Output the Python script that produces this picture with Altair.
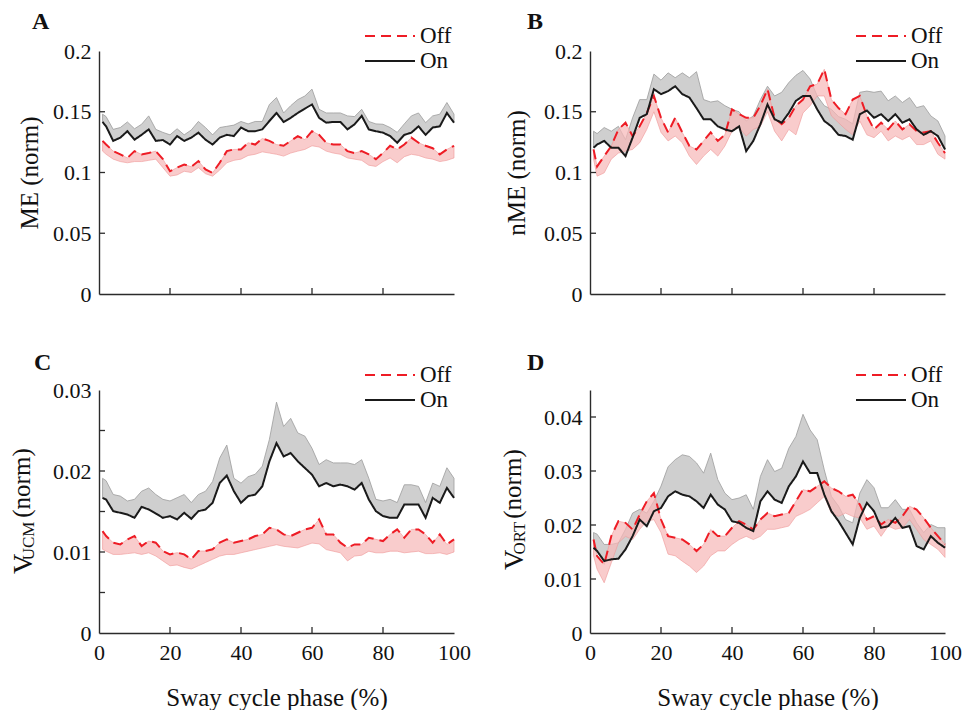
import altair as alt
import pandas as pd

# ---------------- data ----------------
phase = [1] + list(range(2, 101, 2))  # sway cycle phase (%)

x_labels = [0, 20, 40, 60, 80, 100]
x_inner = [20, 40, 60, 80]

A_on = [0.1416, 0.138, 0.126, 0.1287, 0.134, 0.127,
        0.131, 0.1355, 0.126, 0.1267, 0.123,
        0.130, 0.126, 0.1287, 0.1328, 0.127,
        0.123, 0.1287, 0.131, 0.130, 0.137,
        0.134, 0.134, 0.1355, 0.1424, 0.149,
        0.1416, 0.145, 0.149, 0.1526, 0.156,
        0.145, 0.141, 0.1416, 0.1416, 0.1355,
        0.1397, 0.1466, 0.1355, 0.134, 0.1328,
        0.130, 0.1245, 0.131, 0.1328, 0.138,
        0.131, 0.137, 0.138, 0.149, 0.141]
A_on_hi = [0.148, 0.146, 0.1355, 0.137, 0.1416, 0.136,
           0.1397, 0.1466, 0.1355, 0.133, 0.131,
           0.136, 0.131, 0.135, 0.142, 0.137,
           0.131, 0.137, 0.138, 0.139, 0.142,
           0.140, 0.142, 0.142, 0.156, 0.1617,
           0.149, 0.155, 0.160, 0.163, 0.1686,
           0.152, 0.149, 0.149, 0.149, 0.1466,
           0.146, 0.152, 0.142, 0.140, 0.1397,
           0.137, 0.133, 0.140, 0.1466, 0.149,
           0.141, 0.1466, 0.148, 0.1576, 0.148]
A_off = [0.126, 0.123, 0.1176, 0.1149, 0.112, 0.1176,
         0.1149, 0.116, 0.1176, 0.111, 0.101,
         0.104, 0.1066, 0.1047, 0.1094, 0.1025,
         0.0997, 0.108, 0.1176, 0.119, 0.119,
         0.1245, 0.123, 0.128, 0.126, 0.123,
         0.122, 0.126, 0.130, 0.127, 0.134,
         0.131, 0.1245, 0.123, 0.123, 0.1176,
         0.116, 0.1176, 0.1149, 0.111, 0.116,
         0.122, 0.119, 0.123, 0.1287, 0.1245,
         0.122, 0.120, 0.1149, 0.119, 0.122]
A_off_lo = [0.1176, 0.115, 0.111, 0.109, 0.108, 0.109,
            0.109, 0.110, 0.111, 0.104, 0.097,
            0.098, 0.101, 0.100, 0.104, 0.099,
            0.097, 0.102, 0.108, 0.110, 0.111,
            0.114, 0.115, 0.117, 0.116, 0.115,
            0.1135, 0.116, 0.1176, 0.119, 0.122,
            0.121, 0.1176, 0.116, 0.115, 0.112,
            0.111, 0.110, 0.106, 0.105, 0.109,
            0.112, 0.108, 0.113, 0.115, 0.114,
            0.112, 0.111, 0.109, 0.110, 0.112]

B_on = [0.1204, 0.123, 0.126, 0.1204, 0.1204, 0.1135,
        0.1287, 0.145, 0.148, 0.1686, 0.1645,
        0.167, 0.171, 0.1645, 0.1617, 0.153,
        0.1438, 0.1438, 0.138, 0.1355, 0.134,
        0.138, 0.1176, 0.126, 0.1397, 0.156,
        0.1438, 0.141, 0.149, 0.159, 0.163,
        0.163, 0.152, 0.1424, 0.138, 0.131,
        0.130, 0.127, 0.148, 0.151, 0.145,
        0.148, 0.1424, 0.148, 0.141, 0.1438,
        0.1355, 0.131, 0.134, 0.130, 0.119]
B_on_hi = [0.134, 0.132, 0.137, 0.134, 0.138, 0.127,
           0.145, 0.160, 0.160, 0.181, 0.176,
           0.182, 0.178, 0.182, 0.178, 0.183,
           0.160, 0.158, 0.159, 0.155, 0.152,
           0.150, 0.1424, 0.1466, 0.160, 0.171,
           0.163, 0.166, 0.174, 0.180, 0.184,
           0.177, 0.163, 0.155, 0.152, 0.146,
           0.1438, 0.140, 0.166, 0.167, 0.166,
           0.167, 0.159, 0.163, 0.1576, 0.1617,
           0.1534, 0.155, 0.1466, 0.1424, 0.130]
B_off = [0.119, 0.105, 0.1135, 0.1218, 0.1355, 0.141,
         0.130, 0.138, 0.149, 0.163, 0.145,
         0.133, 0.145, 0.133, 0.1218, 0.119,
         0.126, 0.133, 0.126, 0.131, 0.152,
         0.148, 0.145, 0.145, 0.155, 0.1686,
         0.145, 0.1397, 0.145, 0.155, 0.160,
         0.171, 0.1727, 0.185, 0.160, 0.153,
         0.148, 0.160, 0.163, 0.1466, 0.1355,
         0.141, 0.1355, 0.1424, 0.1355, 0.1397,
         0.134, 0.133, 0.134, 0.1245, 0.116]
B_off_lo = [0.111, 0.097, 0.0997, 0.111, 0.116, 0.1176,
            0.119, 0.1245, 0.1355, 0.150, 0.133,
            0.126, 0.130, 0.1245, 0.1135, 0.1066,
            0.1135, 0.119, 0.1135, 0.1218, 0.134,
            0.137, 0.130, 0.1355, 0.138, 0.150,
            0.134, 0.126, 0.1355, 0.131, 0.149,
            0.155, 0.163, 0.163, 0.1466, 0.141,
            0.1355, 0.131, 0.1424, 0.131, 0.1287,
            0.134, 0.126, 0.130, 0.127, 0.130,
            0.123, 0.123, 0.126, 0.115, 0.111]

C_on = [0.01668, 0.01648, 0.01504, 0.01484, 0.01463, 0.01422,
        0.01557, 0.01525, 0.01475, 0.01422, 0.01443,
        0.01402, 0.01484, 0.0141, 0.01504, 0.01525,
        0.01607, 0.01852, 0.01943, 0.0175, 0.01607,
        0.01689, 0.01709, 0.01811, 0.02119, 0.02344,
        0.0218, 0.02221, 0.02119, 0.02037, 0.01955,
        0.01811, 0.01852, 0.01811, 0.01832, 0.01811,
        0.0177, 0.01852, 0.01648, 0.01504, 0.01443,
        0.01422, 0.01422, 0.01586, 0.01586, 0.01586,
        0.01422, 0.01668, 0.01607, 0.01791, 0.01668]
C_on_hi = [0.0191, 0.0188, 0.0171, 0.0169, 0.0163, 0.0165,
           0.0175, 0.0179, 0.0171, 0.0165, 0.0163,
           0.0167, 0.0171, 0.0161, 0.0171, 0.0175,
           0.0187, 0.0216, 0.0232, 0.0191, 0.0185,
           0.0193, 0.0196, 0.0206, 0.0239, 0.0285,
           0.0255, 0.0265, 0.0247, 0.0243, 0.0228,
           0.0208, 0.0214, 0.0210, 0.0210, 0.0210,
           0.0208, 0.0214, 0.0191, 0.0165, 0.0163,
           0.0165, 0.0161, 0.0183, 0.0183, 0.0181,
           0.0161, 0.0185, 0.0181, 0.0204, 0.0191]
C_off = [0.01258, 0.01197, 0.01115, 0.01094, 0.01156, 0.01197,
         0.01074, 0.01135, 0.01115, 0.01012, 0.00971,
         0.00992, 0.00971, 0.0091, 0.01012, 0.01012,
         0.01033, 0.01115, 0.01156, 0.01115, 0.01135,
         0.01156, 0.01197, 0.01217, 0.01299, 0.01279,
         0.01217, 0.01197, 0.01238, 0.01279, 0.01299,
         0.01402, 0.01217, 0.01217, 0.01115, 0.01053,
         0.01094, 0.01094, 0.01176, 0.01156, 0.01135,
         0.01217, 0.01279, 0.01176, 0.01279, 0.01279,
         0.01217, 0.01115, 0.01217, 0.01094, 0.01156]
C_off_lo = [0.01033, 0.0101, 0.0097, 0.0097, 0.0098, 0.0099,
            0.0097, 0.0099, 0.0095, 0.0089, 0.0083,
            0.0084, 0.0081, 0.0079, 0.0083, 0.0087,
            0.0091, 0.0095, 0.0097, 0.0097, 0.0099,
            0.0101, 0.0103, 0.0105, 0.0107, 0.0109,
            0.0107, 0.0106, 0.0105, 0.0108, 0.0111,
            0.0110, 0.0103, 0.0101, 0.0099, 0.0089,
            0.0095, 0.0096, 0.0101, 0.0099, 0.0099,
            0.0101, 0.0101, 0.0099, 0.0100, 0.0101,
            0.0098, 0.0098, 0.0099, 0.0097, 0.0100]

D_on = [0.01579, 0.01518, 0.01333, 0.01364, 0.01376, 0.01548,
        0.01794, 0.02101, 0.01978, 0.02255, 0.02316,
        0.02531, 0.02624, 0.02562, 0.02531, 0.02439,
        0.02316, 0.02562, 0.02378, 0.02286, 0.02071,
        0.0204, 0.01948, 0.01886, 0.02439, 0.02624,
        0.0247, 0.02409, 0.02716, 0.029, 0.03177,
        0.02962, 0.02962, 0.02562, 0.02255, 0.02071,
        0.01856, 0.01641, 0.02132, 0.02409, 0.02255,
        0.01948, 0.01978, 0.02132, 0.01948, 0.01978,
        0.0161, 0.01548, 0.01794, 0.01671, 0.01579]
D_on_hi = [0.0186, 0.0183, 0.0164, 0.0164, 0.0167, 0.0192,
           0.0222, 0.0229, 0.0222, 0.0244, 0.0272,
           0.0308, 0.0321, 0.0330, 0.0327, 0.0315,
           0.0296, 0.0333, 0.0284, 0.0259, 0.0247,
           0.0250, 0.0256, 0.0229, 0.0290, 0.0321,
           0.0299, 0.0305, 0.0342, 0.0364, 0.0405,
           0.0376, 0.0358, 0.0302, 0.0253, 0.0235,
           0.0210, 0.0204, 0.0259, 0.0284, 0.0269,
           0.0232, 0.0232, 0.0247, 0.0229, 0.0229,
           0.0204, 0.0186, 0.0201, 0.0195, 0.0195]
D_off = [0.01733, 0.01425, 0.01272, 0.01794, 0.02071, 0.0204,
         0.01917, 0.02193, 0.02439, 0.02593, 0.02101,
         0.01794, 0.01763, 0.01733, 0.01641, 0.01518,
         0.01641, 0.01917, 0.01794, 0.01794, 0.01948,
         0.02071, 0.02009, 0.01917, 0.02101, 0.02224,
         0.02163, 0.02193, 0.02224, 0.02439, 0.02654,
         0.02624, 0.02716, 0.02808, 0.02685, 0.02624,
         0.02531, 0.02562, 0.02378, 0.02101, 0.02163,
         0.02009, 0.02101, 0.0204, 0.02163, 0.02347,
         0.02286, 0.02132, 0.01948, 0.01794, 0.01641]
D_off_lo = [0.0143, 0.0118, 0.0093, 0.0130, 0.0167, 0.0179,
            0.0173, 0.0192, 0.0207, 0.0210, 0.0186,
            0.0146, 0.0143, 0.0133, 0.0124, 0.0112,
            0.0124, 0.0143, 0.0152, 0.0152, 0.0164,
            0.0173, 0.0179, 0.0173, 0.0179, 0.0192,
            0.0192, 0.0195, 0.0198, 0.0216, 0.0222,
            0.0229, 0.0241, 0.0253, 0.0222, 0.0216,
            0.0222, 0.0216, 0.0213, 0.0192, 0.0198,
            0.0179, 0.0198, 0.0192, 0.0195, 0.0210,
            0.0192, 0.0173, 0.0164, 0.0155, 0.0140]

conds = ["Off", "On"]

# ---------------- style ----------------
FONT = "Liberation Serif"
RED = "#ee1c25"
BLACK = "#1a1a1a"
AXC = "#2b2b2b"
W, H = 355, 243
TICK = 6


def panel(letter, on, on_hi, off, off_lo, ydom, yvals, yinner, yfmt,
          ytitle="", ytitle_pad=10, sub=None, show_x=False,
          label_expr=None, letter_dx=-66, letter_dy=-22):
    n = len(phase)
    band = pd.DataFrame({"phase": phase, "on": on, "on_hi": on_hi,
                         "off": off, "off_lo": off_lo})
    lines = pd.DataFrame({"phase": phase + phase, "value": off + on,
                          "cond": ["Off"] * n + ["On"] * n})
    xsc = alt.Scale(domain=[0, 100], nice=False, zero=False)
    ysc = alt.Scale(domain=ydom, nice=False, zero=True)

    xaxis = alt.Axis(values=x_labels, labels=show_x, ticks=False, tickSize=0,
                     grid=False, domainColor=AXC, domainWidth=1.4,
                     labelFont=FONT, labelFontSize=22, labelColor="#111",
                     labelPadding=9, labelFlush=False,
                     title="Sway cycle phase (%)" if show_x else "",
                     titleFont=FONT, titleFontSize=25, titleFontWeight="normal",
                     titleColor="#111", titlePadding=22)
    yargs = dict(values=yvals, format=yfmt, ticks=False, tickSize=0, grid=False,
                 domainColor=AXC, domainWidth=1.4, labelFont=FONT,
                 labelFontSize=22, labelColor="#111", labelPadding=8,
                 labelFlush=False, title=ytitle, titleFont=FONT,
                 titleFontSize=25, titleFontWeight="normal", titleColor="#111",
                 titlePadding=ytitle_pad)
    if label_expr:
        yargs["labelExpr"] = label_expr
    yaxis = alt.Axis(**yargs)

    def X(f):
        return alt.X(f, scale=xsc, axis=xaxis)

    def Y(f):
        return alt.Y(f, scale=ysc, axis=yaxis)

    gray = alt.Chart(band).mark_area(
        fill="#cfcfcf", fillOpacity=1, stroke="#9c9c9c", strokeWidth=0.8
    ).encode(x=X("phase:Q"), y=Y("on:Q"), y2="on_hi:Q")
    pink = alt.Chart(band).mark_area(
        fill="#f6b9b9", fillOpacity=0.72, stroke="#f09a9a", strokeWidth=0.8,
        strokeOpacity=0.8
    ).encode(x=X("phase:Q"), y=Y("off_lo:Q"), y2="off:Q")
    leg = alt.Legend(title=None, orient="none", legendX=265, legendY=-26,
                     direction="vertical", symbolType="stroke", symbolSize=2500,
                     symbolStrokeWidth=2, clipHeight=22, labelFont=FONT,
                     labelFontSize=23, labelColor="#111", labelOffset=4,
                     rowPadding=2, padding=0)
    line = alt.Chart(lines).mark_line(strokeWidth=2).encode(
        x=X("phase:Q"),
        y=Y("value:Q"),
        color=alt.Color("cond:N", scale=alt.Scale(domain=conds, range=[RED, BLACK]),
                        legend=leg),
        strokeDash=alt.StrokeDash("cond:N",
                                  scale=alt.Scale(domain=conds, range=[[10, 6], [1, 0]]),
                                  legend=leg),
    )
    xt = alt.Chart(pd.DataFrame({"t": x_inner})).mark_rule(
        color=AXC, strokeWidth=1.3
    ).encode(x=X("t:Q"), y=alt.value(H), y2=alt.value(H - TICK))
    yt = alt.Chart(pd.DataFrame({"t": yinner})).mark_rule(
        color=AXC, strokeWidth=1.3
    ).encode(y=Y("t:Q"), x=alt.value(0), x2=alt.value(TICK))
    lab = alt.Chart(pd.DataFrame({"t": [letter]})).mark_text(
        font=FONT, fontSize=24, fontWeight="bold", align="left",
        baseline="alphabetic", color="#111"
    ).encode(text="t:N", x=alt.value(letter_dx), y=alt.value(letter_dy))

    layers = [gray, pink, line, xt, yt, lab]
    if sub:
        for txt, size, yy, xx in sub:
            layers.append(
                alt.Chart(pd.DataFrame({"t": [txt]})).mark_text(
                    font=FONT, fontSize=size, angle=270, align="center",
                    baseline="alphabetic", color="#111"
                ).encode(text="t:N", x=alt.value(xx), y=alt.value(yy))
            )
    return alt.layer(*layers).properties(width=W, height=H)


yAB = [0, 0.05, 0.1, 0.15, 0.2]
inAB = [0.05, 0.1, 0.15]
yC = [0, 0.005, 0.01, 0.015, 0.02, 0.025, 0.03]
inC = [0.005, 0.01, 0.015, 0.02, 0.025]
yD = [0, 0.01, 0.02, 0.03, 0.04]
inD = [0.01, 0.02, 0.03, 0.04]

pA = panel("A", A_on, A_on_hi, A_off, A_off_lo, [0, 0.2], yAB, inAB, ".2~f",
           ytitle="ME (norm)", ytitle_pad=10, letter_dx=-67)
pB = panel("B", B_on, B_on_hi, B_off, B_off_lo, [0, 0.2], yAB, inAB, ".2~f",
           ytitle="nME (norm)", ytitle_pad=14, letter_dx=-63)
pC = panel("C", C_on, C_on_hi, C_off, C_off_lo, [0, 0.03], yC, inC, ".3~f",
           sub=[("V", 28, 174, -67), ("UCM", 17, 151, -65), ("(norm)", 25, 93, -69)],
           show_x=True,
           label_expr="round(datum.value*1000) % 10 == 0 ? datum.label : ''",
           letter_dx=-65, letter_dy=-20)
pD = panel("D", D_on, D_on_hi, D_off, D_off_lo, [0, 0.045], yD, inD, ".2~f",
           sub=[("V", 28, 170, -67), ("ORT", 17, 148, -65), ("(norm)", 25, 94, -69)],
           show_x=True, letter_dx=-63, letter_dy=-20)

chart = alt.concat(
    pA, pB, pC, pD, columns=2, spacing={"row": 96, "column": 136}, bounds="flush"
).resolve_scale(
    color="independent", strokeDash="independent", x="independent", y="independent"
).resolve_legend(
    color="independent", strokeDash="independent"
).properties(
    padding={"left": 2, "top": 2, "right": 0, "bottom": 0},
    background="white"
).configure_view(stroke=None)

chart.save("out.html", embed_options={"renderer": "svg", "actions": False})
